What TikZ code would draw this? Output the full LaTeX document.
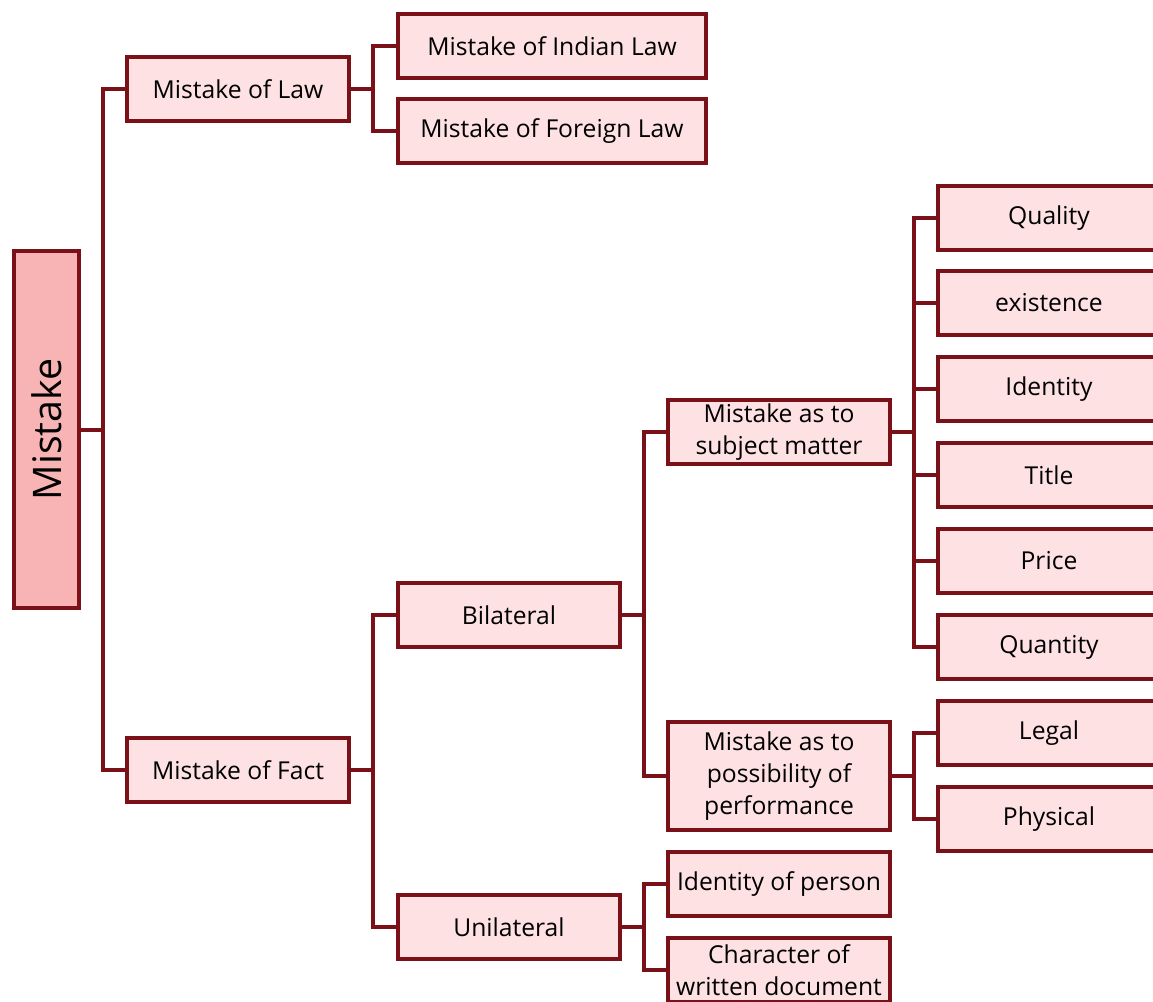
\documentclass[tikz,border=0pt]{standalone}
\usepackage{fontspec}
\setmainfont{Open Sans}
\definecolor{linkred}{HTML}{7A1018}
\definecolor{boxpink}{HTML}{FDE1E3}
\definecolor{rootpink}{HTML}{F8B4B4}
\tikzset{
 box/.style={draw=linkred,line width=3pt,fill=boxpink,minimum width=166.5pt,minimum height=48pt,
  inner sep=2pt,align=center,font=\fontsize{18.5}{23.8}\selectfont},
 widebox/.style={box,minimum width=231pt},
 link/.style={draw=linkred,line width=3pt}
}
\begin{document}
\begin{tikzpicture}[x=0.75pt,y=-0.75pt]
 \useasboundingbox (0,0) rectangle (1153,1001);
 \clip (0,0) rectangle (1153,1001);
 % root
 \node[box,fill=rootpink,rotate=90,minimum width=267.75pt,minimum height=48.75pt,font=\fontsize{29.5}{32}\selectfont] (root) at (46.5,429.5) {Mistake};
 % level 1
 \node[box] (law) at (238,89) {Mistake of Law};
 \node[box] (fact) at (238,770) {Mistake of Fact};
 % level 2
 \node[widebox] (indian) at (552,46) {Mistake of Indian Law};
 \node[widebox] (foreign) at (552,131) {Mistake of Foreign Law};
 \node[box] (bilateral) at (509,615) {Bilateral};
 \node[box] (unilateral) at (509,927) {Unilateral};
 % level 3
 \node[box] (subject) at (779,432) {Mistake as to\\subject matter};
 \node[box,minimum height=81pt] (possible) at (779,776) {Mistake as to\\possibility of\\performance};
 \node[box] (person) at (779,884) {Identity of person};
 \node[box] (document) at (779,970) {Character of\\written document};
 % level 4
 \node[box] (quality) at (1049,218) {Quality};
 \node[box] (existence) at (1049,303) {existence};
 \node[box] (identity) at (1049,389) {Identity};
 \node[box] (title) at (1049,475) {Title};
 \node[box] (price) at (1049,561) {Price};
 \node[box] (quantity) at (1049,647) {Quantity};
 \node[box] (legal) at (1049,733) {Legal};
 \node[box] (physical) at (1049,819) {Physical};
 % connectors
 \foreach \b in {law,fact}
  \draw[link] (root.south) -- ++(22,0) |- (\b.west);
 \foreach \a/\b in {law/indian,law/foreign,fact/bilateral,fact/unilateral,
   bilateral/subject,bilateral/possible,unilateral/person,unilateral/document}
  \draw[link] (\a.east) -- ++(22,0) |- (\b.west);
 \foreach \b in {quality,existence,identity,title,price,quantity}
  \draw[link] (subject.east) -- ++(22,0) |- (\b.west);
 \foreach \b in {legal,physical}
  \draw[link] (possible.east) -- ++(22,0) |- (\b.west);
\end{tikzpicture}
\end{document}
